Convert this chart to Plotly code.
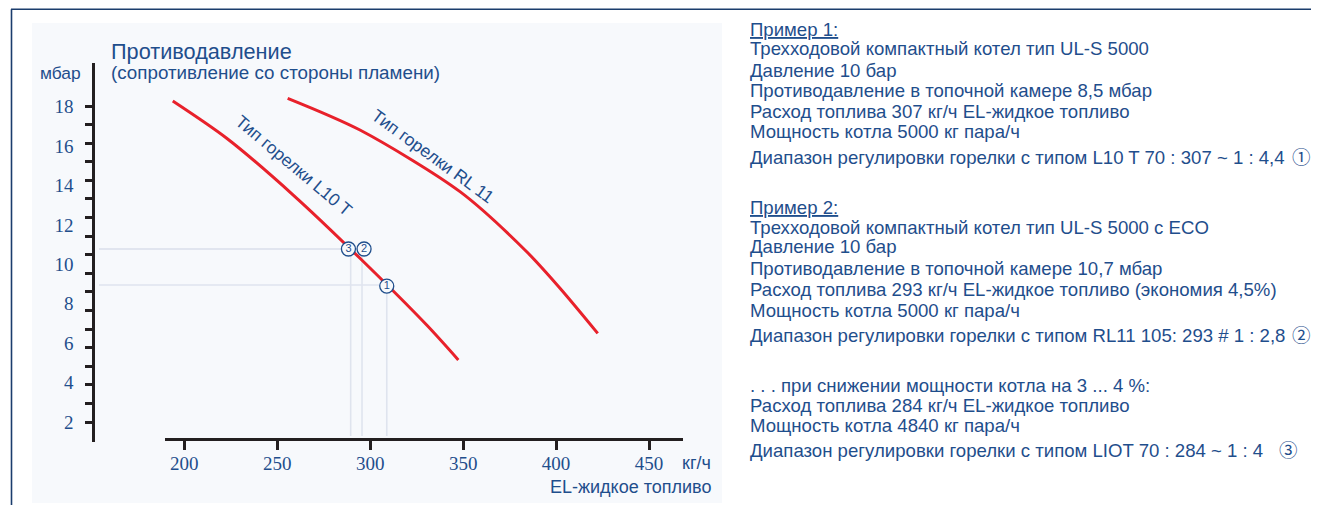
import plotly.graph_objects as go

# the page has an 8px body margin: the figure is drawn from (8, 8) and fits the window exactly
OX, OY = 8, 8
W, H = 1319 - 2 * OX, 513 - 2 * OY

# ---------------- data ----------------
x_ticks = [200, 250, 300, 350, 400, 450]
y_ticks = [2, 4, 6, 8, 10, 12, 14, 16, 18]
y_minor_ticks = list(range(18))          # 18 evenly spaced tick marks on the pressure axis

l10_x = [193.8, 222.8, 258.6, 294.5, 330.4, 347.4]
l10_y = [18.29, 16.40, 13.52, 10.31, 6.92, 5.15]

rl11_x = [255.6, 294.5, 348.3, 384.2, 402.1, 422.4]
rl11_y = [18.43, 16.82, 13.69, 10.64, 8.79, 6.50]

ex_labels = ["3", "2", "1"]
ex_x = [288.3, 296.7, 308.9]
ex_y = [10.78, 10.78, 8.90]

guide_x = [289.5, 295.6, 308.9]
guide_y = [10.78, 10.78, 8.95]
guide_left = 154.1
guide_bottom = 1.29

curve_names = ["Тип горелки L10 T", "Тип горелки RL 11"]

block1 = ["<u>Пример 1:</u>",
          "Трехходовой компактный котел тип UL-S 5000",
          "Давление 10 бар",
          "Противодавление в топочной камере 8,5 мбар",
          "Расход топлива 307 кг/ч EL-жидкое топливо",
          "Мощность котла 5000 кг пара/ч",
          "Диапазон регулировки горелки с типом L10 T 70 : 307 ~ 1 : 4,4"]
block2 = ["<u>Пример 2:</u>",
          "Трехходовой компактный котел тип UL-S 5000 с ECO",
          "Давление 10 бар",
          "Противодавление в топочной камере 10,7 мбар",
          "Расход топлива 293 кг/ч EL-жидкое топливо (экономия 4,5%)",
          "Мощность котла 5000 кг пара/ч",
          "Диапазон регулировки горелки с типом RL11 105: 293 # 1 : 2,8"]
block3 = [". . . при снижении мощности котла на 3 ... 4 %:",
          "Расход топлива 284 кг/ч EL-жидкое топливо",
          "Мощность котла 4840 кг пара/ч",
          "Диапазон регулировки горелки с типом LIOT 70 : 284 ~ 1 : 4"]
circled = ["①", "②", "③"]

# ---------------- styling ----------------
BLUE = "#1f4e8c"
RED = "#e8212b"
DARK = "#231f20"
GUIDE = "#dfe4ee"
PANEL = "#f7f9fc"
FRAME = "#1b3d6d"
SANS = "Liberation Sans, Arial, sans-serif"
SERIF = "Liberation Serif, Times New Roman, serif"


def px(x):
    return (x - OX) / W


def py(y):
    return 1 - (y - OY) / H


fig = go.Figure()

# guide lines (on wide hidden x axis)
for gx, gy in zip(guide_x, guide_y):
    fig.add_trace(go.Scatter(x=[guide_left, gx, gx], y=[gy, gy, guide_bottom],
                             mode="lines", line=dict(color=GUIDE, width=1.6),
                             hoverinfo="skip", xaxis="x", yaxis="y"))

# invisible trace to realise the tick-mark overlay axis
fig.add_trace(go.Scatter(x=[], y=[], xaxis="x", yaxis="y2", hoverinfo="skip"))

# curves
for cx, cy in [(l10_x, l10_y), (rl11_x, rl11_y)]:
    fig.add_trace(go.Scatter(x=cx, y=cy, mode="lines",
                             line=dict(color=RED, width=3, shape="spline", smoothing=0.8),
                             hoverinfo="skip", xaxis="x2", yaxis="y"))

# example markers
fig.add_trace(go.Scatter(x=ex_x, y=ex_y, mode="markers+text", text=ex_labels,
                         textposition="middle center",
                         textfont=dict(family=SANS, size=11, color=BLUE),
                         marker=dict(size=14, color=PANEL, line=dict(color=BLUE, width=1.3)),
                         cliponaxis=False, hoverinfo="skip", xaxis="x2", yaxis="y"))

annotations = []
# chart titles
annotations.append(dict(x=px(109), y=py(51), xref="paper", yref="paper", text="Противодавление",
                        showarrow=False, xanchor="left", yanchor="middle",
                        font=dict(family=SANS, size=21.7, color=BLUE)))
annotations.append(dict(x=px(109), y=py(73), xref="paper", yref="paper",
                        text="(сопротивление со стороны пламени)",
                        showarrow=False, xanchor="left", yanchor="middle",
                        font=dict(family=SANS, size=18.8, color=BLUE)))
annotations.append(dict(x=px(83), y=py(73), xref="paper", yref="paper", text="мбар",
                        showarrow=False, xanchor="right", yanchor="middle",
                        font=dict(family=SANS, size=17.4, color=BLUE)))
annotations.append(dict(x=px(713), y=py(463), xref="paper", yref="paper", text="кг/ч",
                        showarrow=False, xanchor="right", yanchor="middle",
                        font=dict(family=SANS, size=18, color=BLUE)))
annotations.append(dict(x=px(713), y=py(487), xref="paper", yref="paper", text="EL-жидкое топливо",
                        showarrow=False, xanchor="right", yanchor="middle",
                        font=dict(family=SANS, size=18, color=BLUE)))

# curve labels
label_pos = [(259.2, 15.00, 40), (333.6, 15.50, 36)]
for name, (lx, ly, ang) in zip(curve_names, label_pos):
    annotations.append(dict(x=lx, y=ly, xref="x2", yref="y", text=name, textangle=ang,
                            showarrow=False, xanchor="center", yanchor="middle",
                            font=dict(family=SANS, size=17.5, color=BLUE)))

# right-hand text
rows1 = [30, 49, 70, 91, 111, 132, 157]
rows2 = [207, 227, 247, 268, 289, 310, 335]
rows3 = [385, 405, 425, 450]
for block, rows in [(block1, rows1), (block2, rows2), (block3, rows3)]:
    for t, r in zip(block, rows):
        annotations.append(dict(x=px(748), y=py(r), xref="paper", yref="paper", text=t,
                                showarrow=False, xanchor="left", yanchor="middle",
                                font=dict(family=SANS, size=18.6, color=BLUE)))
for c, (cxp, cyp) in zip(circled, [(1301, 156), (1301, 334), (1288, 449)]):
    annotations.append(dict(x=px(cxp), y=py(cyp), xref="paper", yref="paper", text=c,
                            showarrow=False, xanchor="center", yanchor="middle",
                            font=dict(family="Noto Sans CJK JP", size=18.5, color=BLUE)))

shapes = [
    dict(type="rect", xref="paper", yref="paper", x0=px(32), x1=px(722), y0=py(503), y1=py(23),
         fillcolor=PANEL, line=dict(width=0), layer="below"),
    dict(type="line", xref="paper", yref="paper", x0=px(11), x1=1, y0=py(9.3), y1=py(9.3),
         line=dict(color=FRAME, width=1.6)),
    dict(type="line", xref="paper", yref="paper", x0=px(11.5), x1=px(11.5), y0=py(9.3), y1=0,
         line=dict(color=FRAME, width=1.6)),
]

fig.update_layout(
    width=W, height=H, margin=dict(l=0, r=0, t=0, b=0),
    paper_bgcolor="white", plot_bgcolor="rgba(0,0,0,0)", showlegend=False,
    annotations=annotations, shapes=shapes,
    xaxis=dict(domain=[px(93.3), px(683)], range=[151.05, 468.26], visible=False),
    xaxis2=dict(domain=[px(165), px(683)], range=[189.62, 468.26], anchor="free",
                position=py(439.3), showline=True, linewidth=3, linecolor=DARK,
                ticks="outside", ticklen=9, tickwidth=2.5, tickcolor=DARK,
                ticklabelstandoff=-3,
                tickvals=x_ticks, tickfont=dict(family=SERIF, size=19, color=BLUE),
                showgrid=False, zeroline=False),
    yaxis=dict(domain=[py(441.7), py(63)], range=[1.0, 20.22], anchor="free",
               position=px(93.3), showline=True, linewidth=3, linecolor=DARK,
               ticks="", tickvals=y_ticks, ticklabelstandoff=15,
               tickfont=dict(family=SERIF, size=19, color=BLUE),
               showgrid=False, zeroline=False),
    yaxis2=dict(overlaying="y", range=[-1.0598, 19.313], anchor="free", position=px(93.3),
                ticks="outside", ticklen=8, tickwidth=2.5, tickcolor=DARK,
                tickvals=y_minor_ticks, showticklabels=False,
                showgrid=False, zeroline=False, showline=False),
)

fig.write_html("out.html", config={"displayModeBar": False})
